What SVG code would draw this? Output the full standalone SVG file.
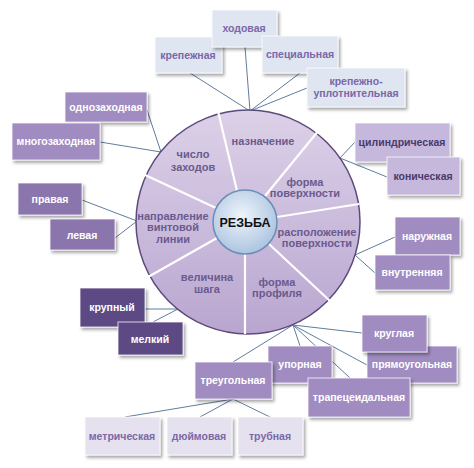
<svg xmlns="http://www.w3.org/2000/svg" width="474" height="468" viewBox="0 0 474 468">
<defs>
<filter id="sh" x="-20%" y="-20%" width="150%" height="160%">
<feDropShadow dx="2" dy="2.5" stdDeviation="1.6" flood-color="#000" flood-opacity="0.35"/>
</filter>
<linearGradient id="gOuter" x1="0" y1="0" x2="0" y2="1">
<stop offset="0" stop-color="#dcd1e8"/>
<stop offset="1" stop-color="#b9a6d0"/>
</linearGradient>
<radialGradient id="gInner" cx="0.45" cy="0.4" r="0.65">
<stop offset="0" stop-color="#eef4fb"/>
<stop offset="1" stop-color="#a7c1de"/>
</radialGradient>
</defs>
<style>
.box{stroke:#ffffff;stroke-opacity:0.75;stroke-width:1;filter:url(#sh)}
.t{font-family:"Liberation Sans",Arial,sans-serif;font-size:10.5px;font-weight:bold;text-anchor:middle}
.st{font-family:"Liberation Sans",Arial,sans-serif;font-size:11px;font-weight:bold;text-anchor:middle;fill:#6a5a8e}
.blue{fill:#dfe5f1}
.pale{fill:#e5e1ef}
.mid{fill:#a08cc1}
.mid2{fill:#8b74ad}
.lilac{fill:#c5b8dc}
.dark{fill:#5d4883}
.tp{fill:#7a68a8}
.tw{fill:#ffffff}
.td{fill:#4a3a6c}
.con{stroke:#5f7d9e;stroke-width:1;fill:none}
.div{stroke:#ffffff;stroke-width:2.2}
</style>

<g id="connectors">
<line class="con" x1="250" y1="111" x2="190" y2="73"/>
<line class="con" x1="250" y1="111" x2="245" y2="47"/>
<line class="con" x1="250" y1="111" x2="300" y2="73"/>
<line class="con" x1="250" y1="111" x2="307" y2="88"/>
<line class="con" x1="161" y1="152" x2="147" y2="110"/>
<line class="con" x1="161" y1="152" x2="100" y2="142"/>
<line class="con" x1="137" y1="221" x2="82" y2="200"/>
<line class="con" x1="137" y1="221" x2="115" y2="238"/>
<line class="con" x1="340" y1="158" x2="355" y2="142"/>
<line class="con" x1="340" y1="158" x2="387" y2="177"/>
<line class="con" x1="355" y1="255" x2="395" y2="237"/>
<line class="con" x1="355" y1="255" x2="375" y2="273"/>
<line class="con" x1="178" y1="309" x2="145" y2="309"/>
<line class="con" x1="178" y1="309" x2="153" y2="322"/>
<line class="con" x1="293" y1="325" x2="362" y2="333"/>
<line class="con" x1="293" y1="325" x2="300" y2="346"/>
<line class="con" x1="293" y1="325" x2="367" y2="365"/>
<line class="con" x1="293" y1="325" x2="350" y2="378"/>
<line class="con" x1="293" y1="325" x2="233" y2="362"/>
<line class="con" x1="233" y1="399" x2="125" y2="417"/>
<line class="con" x1="233" y1="399" x2="200" y2="417"/>
<line class="con" x1="233" y1="399" x2="270" y2="417"/>
</g>

<g id="wheel">
<circle cx="248" cy="222" r="112" fill="url(#gOuter)" stroke="#5b4a7c" stroke-width="1.5"/>
<line class="div" x1="237" y1="191" x2="218" y2="111"/>
<line class="div" x1="265" y1="196" x2="319" y2="130"/>
<line class="div" x1="277" y1="217" x2="359" y2="204"/>
<line class="div" x1="269" y1="244" x2="330" y2="301"/>
<line class="div" x1="245" y1="254" x2="245" y2="334"/>
<line class="div" x1="217" y1="238" x2="148" y2="277"/>
<line class="div" x1="216" y1="208" x2="143" y2="174"/>
<text class="st" x="263" y="145">назначение</text>
<text class="st" x="193" y="158">число</text>
<text class="st" x="193" y="171">заходов</text>
<text class="st" x="305" y="186">форма</text>
<text class="st" x="305" y="197">поверхности</text>
<text class="st" x="173" y="220">направление</text>
<text class="st" x="173" y="231">винтовой</text>
<text class="st" x="173" y="243">линии</text>
<text class="st" x="317" y="236">расположение</text>
<text class="st" x="317" y="247">поверхности</text>
<text class="st" x="207" y="281">величина</text>
<text class="st" x="207" y="293">шага</text>
<text class="st" x="277" y="286">форма</text>
<text class="st" x="277" y="297">профиля</text>
</g>

<g id="center">
<circle cx="245" cy="222" r="32" fill="url(#gInner)" stroke="#6b8db5" stroke-width="1.5"/>
<text x="245" y="227" font-family="'Liberation Sans',Arial,sans-serif" font-size="12.5" font-weight="bold" text-anchor="middle" fill="#111">РЕЗЬБА</text>
</g>

<g id="n-krepezhnaya"><rect class="box blue" x="155" y="37" width="67" height="36"/><text class="t tp" x="188" y="59">крепежная</text></g>
<g id="n-khodovaya"><rect class="box blue" x="212" y="10" width="65" height="37"/><text class="t tp" x="244" y="32">ходовая</text></g>
<g id="n-specialnaya"><rect class="box blue" x="262" y="36" width="76" height="37"/><text class="t tp" x="300" y="58">специальная</text></g>
<g id="n-krepuplot"><rect class="box blue" x="307" y="68" width="98" height="39"/><text class="t tp" x="356" y="85">крепежно-</text><text class="t tp" x="356" y="97">уплотнительная</text></g>

<g id="n-odnozakh"><rect class="box mid" x="65" y="92" width="82" height="30"/><text class="t tw" x="106" y="111">однозаходная</text></g>
<g id="n-mnogozakh"><rect class="box mid" x="12" y="123" width="88" height="37"/><text class="t tw" x="56" y="145">многозаходная</text></g>

<g id="n-pravaya"><rect class="box mid2" x="18" y="183" width="64" height="32"/><text class="t tw" x="50" y="203">правая</text></g>
<g id="n-levaya"><rect class="box mid2" x="50" y="219" width="65" height="31"/><text class="t tw" x="82" y="239">левая</text></g>

<g id="n-cilindr"><rect class="box lilac" x="355" y="123" width="95" height="39"/><text class="t td" x="402" y="146">цилиндрическая</text></g>
<g id="n-konich"><rect class="box lilac" x="387" y="157" width="73" height="38"/><text class="t td" x="423" y="180">коническая</text></g>

<g id="n-naruzh"><rect class="box mid" x="395" y="217" width="65" height="38"/><text class="t tw" x="427" y="240">наружная</text></g>
<g id="n-vnutr"><rect class="box mid" x="375" y="255" width="75" height="35"/><text class="t tw" x="412" y="276">внутренняя</text></g>

<g id="n-krupny"><rect class="box dark" x="80" y="288" width="65" height="39"/><text class="t tw" x="112" y="311">крупный</text></g>
<g id="n-melkiy"><rect class="box dark" x="118" y="322" width="65" height="33"/><text class="t tw" x="150" y="343">мелкий</text></g>

<g id="n-upornaya"><rect class="box mid" x="268" y="346" width="64" height="37"/><text class="t tw" x="300" y="368">упорная</text></g>
<g id="n-treug"><rect class="box mid" x="195" y="362" width="77" height="37"/><text class="t tw" x="233" y="384">треугольная</text></g>
<g id="n-pryamoug"><rect class="box mid" x="367" y="346" width="90" height="37"/><text class="t tw" x="412" y="368">прямоугольная</text></g>
<g id="n-kruglaya"><rect class="box mid" x="362" y="315" width="65" height="37"/><text class="t tw" x="394" y="337">круглая</text></g>
<g id="n-trapec"><rect class="box mid" x="308" y="378" width="102" height="39"/><text class="t tw" x="359" y="401">трапецеидальная</text></g>

<g id="n-metrich"><rect class="box pale" x="85" y="417" width="75" height="38"/><text class="t tp" x="122" y="440">метрическая</text></g>
<g id="n-dyuim"><rect class="box pale" x="167" y="417" width="65" height="38"/><text class="t tp" x="199" y="440">дюймовая</text></g>
<g id="n-trubnaya"><rect class="box pale" x="238" y="417" width="65" height="38"/><text class="t tp" x="270" y="440">трубная</text></g>
</svg>
